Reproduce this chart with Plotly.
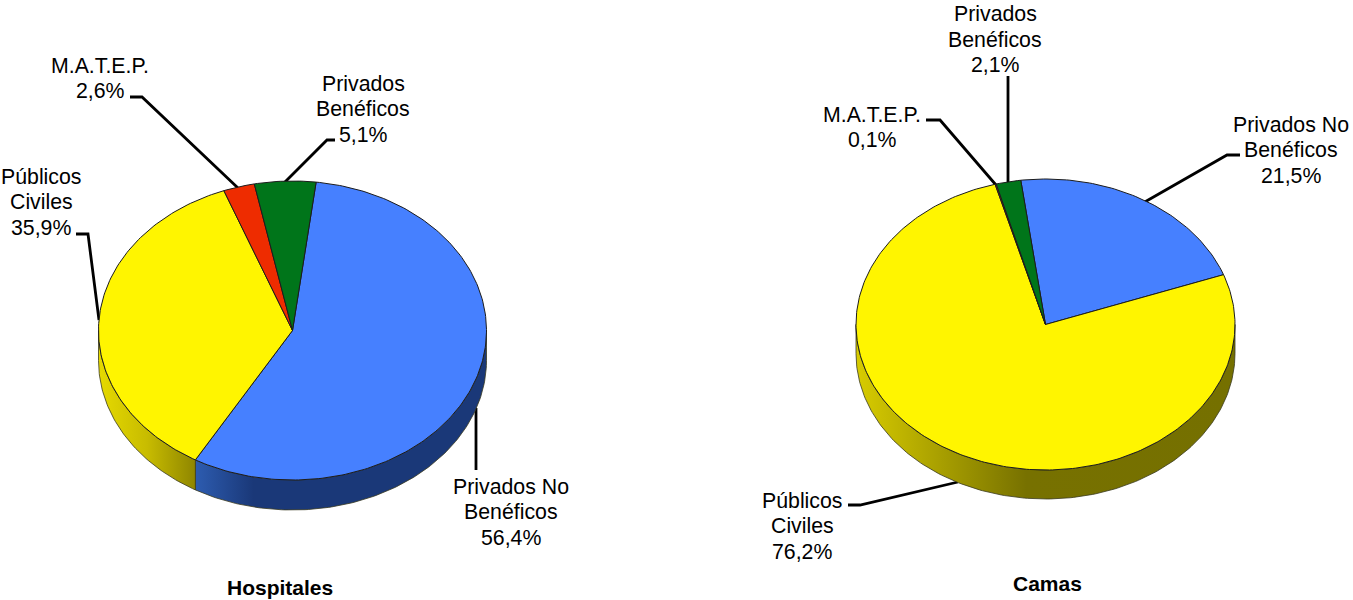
import math
import plotly.graph_objects as go

# ---------- data ----------
hosp_names = ["Privados No Benéficos", "Públicos Civiles", "M.A.T.E.P.", "Privados Benéficos"]
hosp_values = [56.4, 35.9, 2.6, 5.1]
cama_names = ["Privados No Benéficos", "Públicos Civiles", "M.A.T.E.P.", "Privados Benéficos"]
cama_values = [21.5, 76.2, 0.1, 2.1]
titles = ["Hospitales", "Camas"]

# label lines (text in original language)
hosp_lines = [["Privados No", "Benéficos", "56,4%"], ["Públicos", "Civiles", "35,9%"],
              ["M.A.T.E.P.", "2,6%"], ["Privados", "Benéficos", "5,1%"]]
cama_lines = [["Privados No", "Benéficos", "21,5%"], ["Públicos", "Civiles", "76,2%"],
              ["M.A.T.E.P.", "0,1%"], ["Privados", "Benéficos", "2,1%"]]

# ---------- style / layout ----------
W, H = 1353, 600
slice_colors = ["#4680FF", "#FFF500", "#EE2C00", "#00751A"]
FONT = "Liberation Sans, Arial, sans-serif"
FS = 21.3
LH = 25.5

hosp_geo = dict(cx=292.5, cy=330.5, rx=194, ry=149.5, depth=30, start=7)
cama_geo = dict(cx=1045.5, cy=324.5, rx=189.5, ry=145.5, depth=29, start=-7.5)

hosp_wall = {0: [[0, "#2d5cb0"], [0.2, "#1a3878"], [1, "#1a3878"]],
             1: [[0, "#e6da00"], [0.5, "#c8bc00"], [1, "#8f8600"]]}
cama_wall = {1: [[0, "#d8cc00"], [0.45, "#777100"], [1, "#757000"]]}

hosp_label_pos = [(511, 486.6), (41, 176.6), (100, 65.6), (363, 83.6)]
cama_label_pos = [(1291, 124.6), (802, 500.6), (872, 114.6), (995, 14)]

hosp_leaders = [[(476, 408), (476, 470)], [(76, 234), (88, 234), (99, 320)],
                [(130, 97), (142, 97), (238, 188)], [(335, 140), (327, 140), (284, 183)]]
cama_leaders = [[(1240, 155), (1227, 155), (1143, 203)], [(848, 505), (860, 505), (958, 482)],
                [(926, 120), (940, 120), (996, 185)], [(1008, 76), (1008, 183)]]

title_pos = [(280, 587), (1047, 583)]

fig = go.Figure()


def pt(g, deg, dy=0):
    t = math.radians(deg)
    return g["cx"] + g["rx"] * math.sin(t), g["cy"] - g["ry"] * math.cos(t) + dy


def arc(g, a, b, dy=0):
    n = max(2, int(abs(b - a)) + 2)
    return [pt(g, a + (b - a) * i / (n - 1), dy) for i in range(n)]


def poly(points, **kw):
    xs = [p[0] for p in points]
    ys = [p[1] for p in points]
    fig.add_trace(go.Scatter(x=xs, y=ys, mode="lines", hoverinfo="skip", showlegend=False, **kw))


def draw_pie(values, g, walls, leaders):
    for seg in leaders:
        poly(seg, line=dict(color="#000000", width=2.8))
    # slice angles follow from the values
    edges = [g["start"]]
    for v in values:
        edges.append(edges[-1] + v / sum(values) * 360)
    # walls
    for i, col in enumerate(slice_colors):
        a, b = edges[i] % 360, edges[i] % 360 + (edges[i + 1] - edges[i])
        for off in (0, 360):
            lo, hi = max(a, 90 + off), min(b, 270 + off)
            if hi > lo:
                pts = arc(g, lo, hi) + arc(g, hi, lo, g["depth"])
                pts.append(pts[0])
                poly(pts, fill="toself",
                     fillgradient=dict(type="horizontal", colorscale=walls[i]),
                     line=dict(color="#3a3a20", width=0.8))
    # top faces
    for i, col in enumerate(slice_colors):
        pts = [(g["cx"], g["cy"])] + arc(g, edges[i], edges[i + 1]) + [(g["cx"], g["cy"])]
        poly(pts, fill="toself", fillcolor=col, line=dict(color="#1c1c1c", width=1))


draw_pie(hosp_values, hosp_geo, hosp_wall, hosp_leaders)
draw_pie(cama_values, cama_geo, cama_wall, cama_leaders)

annotations = []
for lines_set, pos_set in ((hosp_lines, hosp_label_pos), (cama_lines, cama_label_pos)):
    for lines, (x, y) in zip(lines_set, pos_set):
        for j, line in enumerate(lines):
            annotations.append(dict(x=x, y=y + j * LH, text=line, showarrow=False,
                                    xanchor="center", yanchor="middle",
                                    font=dict(family=FONT, size=FS, color="#000000")))
for t, (x, y) in zip(titles, title_pos):
    annotations.append(dict(x=x, y=y, text="<b>" + t + "</b>", showarrow=False,
                            xanchor="center", yanchor="middle",
                            font=dict(family=FONT, size=21, color="#000000")))

fig.update_layout(
    width=W, height=H, margin=dict(l=0, r=0, t=0, b=0),
    paper_bgcolor="#ffffff", plot_bgcolor="#ffffff", showlegend=False,
    xaxis=dict(range=[0, W], visible=False, fixedrange=True),
    yaxis=dict(range=[H, 0], visible=False, fixedrange=True),
    annotations=annotations,
)
fig.write_html("out.html", config=dict(displayModeBar=False),
               post_script="document.body.style.margin='0';document.body.style.overflow='hidden';")
